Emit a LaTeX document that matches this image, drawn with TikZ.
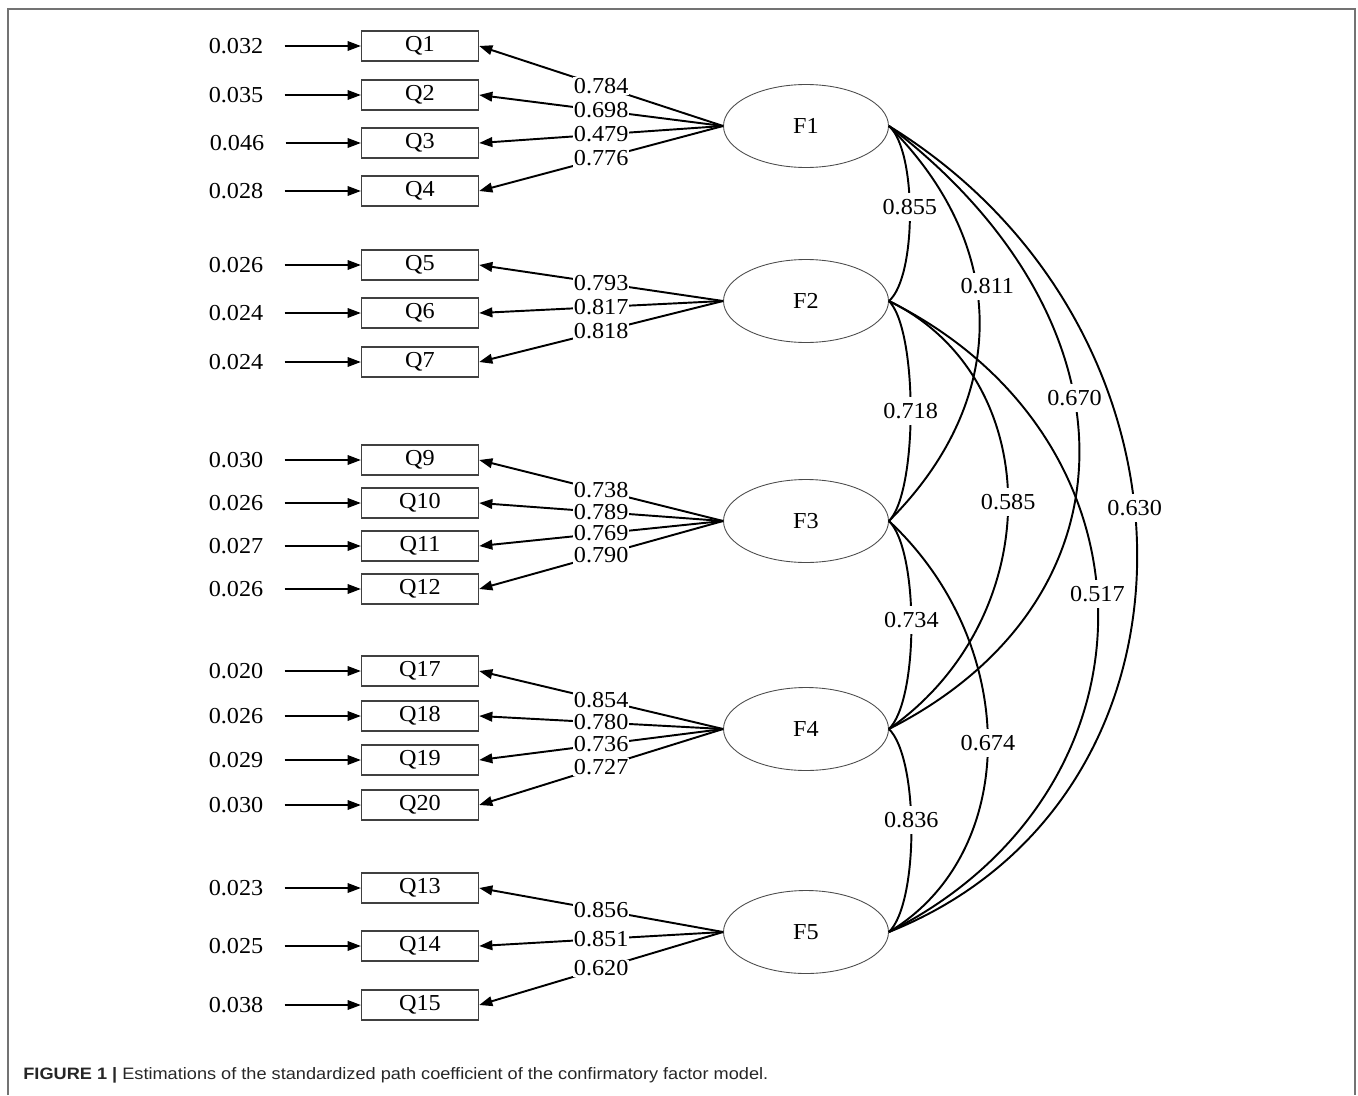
\documentclass[tikz,border=0pt]{standalone}
\usepackage{fontspec}
\setmainfont[FakeStretch=1.06]{Liberation Serif}
\setsansfont[FakeStretch=1.1]{Liberation Sans}
\usetikzlibrary{arrows.meta,shapes.geometric}

\begin{document}
\begin{tikzpicture}[x=0.02cm,y=-0.02cm,
    every node/.style={font=\fontsize{13}{15}\selectfont},
    qbox/.style={draw=black!75,line width=0.8pt,minimum width=2.34cm,minimum height=0.6cm,inner sep=0pt},
    factor/.style={ellipse,draw=black!70,line width=0.5pt,minimum width=3.3cm,minimum height=1.66cm,inner sep=0pt},
    errval/.style={inner sep=0pt},
    qarrow/.style={-{Triangle[length=7.5pt,width=5.5pt]}},
    errarrow/.style={qarrow,line width=0.7pt,shorten <=12pt},
    loading/.style={qarrow,line width=1.1pt},
    corr/.style={line width=1.1pt},
    coef/.style={fill=white,inner sep=0.6pt},
    corrcoef/.style={fill=white,inner xsep=1pt,inner ysep=3.5pt}]
\useasboundingbox (0,0) rectangle (1358,1095);
%draw frame
    \draw[black!55,line width=1.2pt] (8,1095) -- (8,9) -- (1355,9) -- (1355,1095);
%draw factors
    \node[factor] (f1) at (806,126) {F1};
    \node[factor] (f2) at (806,301) {F2};
    \node[factor] (f3) at (806,521) {F3};
    \node[factor] (f4) at (806,729) {F4};
    \node[factor] (f5) at (806,932) {F5};
%draw observed variables
    \node[qbox] (q1) at (420,46) {Q1};
    \node[qbox] (q2) at (420,95) {Q2};
    \node[qbox] (q3) at (420,143) {Q3};
    \node[qbox] (q4) at (420,191) {Q4};
    \node[qbox] (q5) at (420,265) {Q5};
    \node[qbox] (q6) at (420,313) {Q6};
    \node[qbox] (q7) at (420,362) {Q7};
    \node[qbox] (q9) at (420,460) {Q9};
    \node[qbox] (q10) at (420,503) {Q10};
    \node[qbox] (q11) at (420,546) {Q11};
    \node[qbox] (q12) at (420,589) {Q12};
    \node[qbox] (q17) at (420,671) {Q17};
    \node[qbox] (q18) at (420,716) {Q18};
    \node[qbox] (q19) at (420,760) {Q19};
    \node[qbox] (q20) at (420,805) {Q20};
    \node[qbox] (q13) at (420,888) {Q13};
    \node[qbox] (q14) at (420,946) {Q14};
    \node[qbox] (q15) at (420,1005) {Q15};
%insert error values
    \node[errval] (e1) at (236,46) {0.032};
    \node[errval] (e2) at (236,95) {0.035};
    \node[errval] (e3) at (237,143) {0.046};
    \node[errval] (e4) at (236,191) {0.028};
    \node[errval] (e5) at (236,265) {0.026};
    \node[errval] (e6) at (236,313) {0.024};
    \node[errval] (e7) at (236,362) {0.024};
    \node[errval] (e9) at (236,460) {0.030};
    \node[errval] (e10) at (236,503) {0.026};
    \node[errval] (e11) at (236,546) {0.027};
    \node[errval] (e12) at (236,589) {0.026};
    \node[errval] (e17) at (236,671) {0.020};
    \node[errval] (e18) at (236,716) {0.026};
    \node[errval] (e19) at (236,760) {0.029};
    \node[errval] (e20) at (236,805) {0.030};
    \node[errval] (e13) at (236,888) {0.023};
    \node[errval] (e14) at (236,946) {0.025};
    \node[errval] (e15) at (236,1005) {0.038};
%draw error arrows
    \draw[errarrow] (e1.east) -- (q1.west);
    \draw[errarrow] (e2.east) -- (q2.west);
    \draw[errarrow] (e3.east) -- (q3.west);
    \draw[errarrow] (e4.east) -- (q4.west);
    \draw[errarrow] (e5.east) -- (q5.west);
    \draw[errarrow] (e6.east) -- (q6.west);
    \draw[errarrow] (e7.east) -- (q7.west);
    \draw[errarrow] (e9.east) -- (q9.west);
    \draw[errarrow] (e10.east) -- (q10.west);
    \draw[errarrow] (e11.east) -- (q11.west);
    \draw[errarrow] (e12.east) -- (q12.west);
    \draw[errarrow] (e17.east) -- (q17.west);
    \draw[errarrow] (e18.east) -- (q18.west);
    \draw[errarrow] (e19.east) -- (q19.west);
    \draw[errarrow] (e20.east) -- (q20.west);
    \draw[errarrow] (e13.east) -- (q13.west);
    \draw[errarrow] (e14.east) -- (q14.west);
    \draw[errarrow] (e15.east) -- (q15.west);
%draw loadings
    \draw[loading] (f1.west) -- (q1.east) node[coef,midway] {0.784};
    \draw[loading] (f1.west) -- (q2.east) node[coef,midway] {0.698};
    \draw[loading] (f1.west) -- (q3.east) node[coef,midway] {0.479};
    \draw[loading] (f1.west) -- (q4.east) node[coef,midway] {0.776};
    \draw[loading] (f2.west) -- (q5.east) node[coef,midway] {0.793};
    \draw[loading] (f2.west) -- (q6.east) node[coef,midway] {0.817};
    \draw[loading] (f2.west) -- (q7.east) node[coef,midway] {0.818};
    \draw[loading] (f3.west) -- (q9.east) node[coef,midway] {0.738};
    \draw[loading] (f3.west) -- (q10.east) node[coef,midway] {0.789};
    \draw[loading] (f3.west) -- (q11.east) node[coef,midway] {0.769};
    \draw[loading] (f3.west) -- (q12.east) node[coef,midway] {0.790};
    \draw[loading] (f4.west) -- (q17.east) node[coef,midway] {0.854};
    \draw[loading] (f4.west) -- (q18.east) node[coef,midway] {0.780};
    \draw[loading] (f4.west) -- (q19.east) node[coef,midway] {0.736};
    \draw[loading] (f4.west) -- (q20.east) node[coef,midway] {0.727};
    \draw[loading] (f5.west) -- (q13.east) node[coef,midway] {0.856};
    \draw[loading] (f5.west) -- (q14.east) node[coef,midway] {0.851};
    \draw[loading] (f5.west) -- (q15.east) node[coef,midway] {0.620};
%draw correlations
    \draw[corr] (f1.east) .. controls +(331,204) and +(331,-132) .. (f5.east) coordinate[pos=0.45] (c15);
    \draw[corr] (f2.east) .. controls +(279,139) and +(279,-140) .. (f5.east) coordinate[pos=0.47] (c25);
    \draw[corr] (f1.east) .. controls +(254,194) and +(254,-129) .. (f4.east) coordinate[pos=0.42] (c14);
    \draw[corr] (f2.east) .. controls +(159,77) and +(159,-111) .. (f4.east) coordinate[pos=0.5] (c24);
    \draw[corr] (f3.east) .. controls +(132,123) and +(132,-79) .. (f5.east) coordinate[pos=0.5] (c35);
    \draw[corr] (f1.east) .. controls +(121,121) and +(121,-121) .. (f3.east) coordinate[pos=0.41] (c13);
    \draw[corr] (f1.east) .. controls +(28,24) and +(28,-24) .. (f2.east) coordinate[pos=0.47] (c12);
    \draw[corr] (f2.east) .. controls +(29,29) and +(29,-29) .. (f3.east) coordinate[pos=0.5] (c23);
    \draw[corr] (f3.east) .. controls +(30,29) and +(30,-29) .. (f4.east) coordinate[pos=0.48] (c34);
    \draw[corr] (f4.east) .. controls +(30,29) and +(30,-29) .. (f5.east) coordinate[pos=0.46] (c45);
%insert correlation labels
    \node[corrcoef] (r15) at (c15) {0.630};
    \node[corrcoef] (r25) at (c25) {0.517};
    \node[corrcoef] (r14) at (c14) {0.670};
    \node[corrcoef] (r24) at (c24) {0.585};
    \node[corrcoef] (r35) at (c35) {0.674};
    \node[corrcoef] (r13) at ([xshift=6]c13) {0.811};
    \node[corrcoef] (r12) at (c12) {0.855};
    \node[corrcoef] (r23) at (c23) {0.718};
    \node[corrcoef] (r34) at (c34) {0.734};
    \node[corrcoef] (r45) at (c45) {0.836};
%insert figure caption
    \node[anchor=base west,inner sep=0pt,font=\sffamily\fontsize{9.4}{11}\selectfont,text=black!85] (cap) at (23,1079)
        {\textbf{FIGURE 1 |} Estimations of the standardized path coefficient of the confirmatory factor model.};
\end{tikzpicture}
\end{document}
